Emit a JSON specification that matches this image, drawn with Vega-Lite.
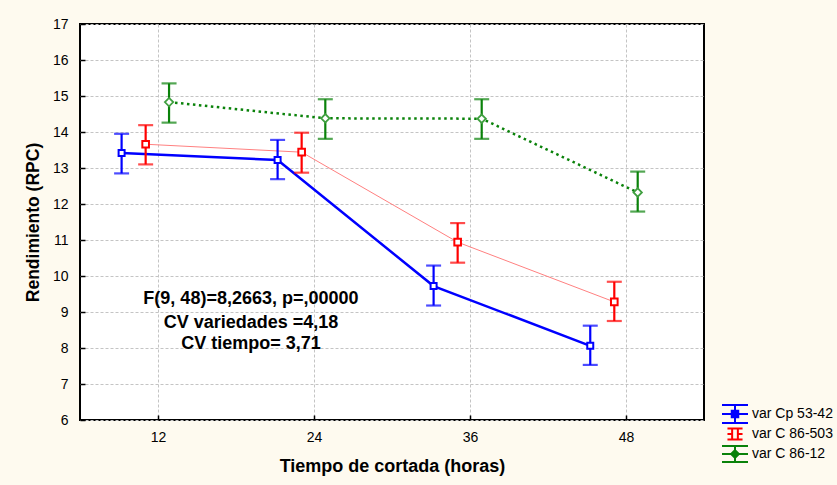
{
  "$schema": "https://vega.github.io/schema/vega-lite/v6.json",
  "width": 624,
  "height": 396,
  "autosize": {"type": "none"},
  "padding": {"left": 80, "top": 24, "right": 133, "bottom": 65},
  "background": "#fefaef",
  "config": {
    "view": {"stroke": "#000000", "strokeWidth": 2, "fill": "#ffffff"},
    "font": "Liberation Sans",
    "axis": {
      "domain": false,
      "grid": true,
      "gridColor": "#c4c4c4",
      "gridDash": [3, 2],
      "gridWidth": 1,
      "ticks": true,
      "tickSize": -5,
      "tickColor": "#000000",
      "tickWidth": 1.5,
      "labelFont": "Liberation Sans",
      "labelFontSize": 14,
      "labelColor": "#000000",
      "titleFont": "Liberation Sans",
      "titleFontWeight": "bold",
      "titleColor": "#000000"
    },
    "legend": {
      "orient": "none",
      "legendX": 641,
      "legendY": 380,
      "padding": 0,
      "clipHeight": 20,
      "rowPadding": 0,
      "symbolSize": 676,
      "symbolStrokeWidth": 2,
      "symbolType": "M-1,-0.69H1M-1,0.69H1M0,-0.69V-0.25M0,0.25V0.69M-1,0H-0.25M0.25,0H1M-0.25,-0.25H0.25V0.25H-0.25Z",
      "labelFont": "Liberation Sans",
      "labelFontSize": 14,
      "labelColor": "#000000",
      "labelOffset": 3,
      "labelLimit": 300
    }
  },
  "data": {
    "values": [
      {"serie": "var Cp 53-42", "t": 12, "x": 9.2, "y": 13.42, "lo": 12.85, "hi": 13.95},
      {"serie": "var Cp 53-42", "t": 24, "x": 21.2, "y": 13.22, "lo": 12.69, "hi": 13.78},
      {"serie": "var Cp 53-42", "t": 36, "x": 33.2, "y": 9.72, "lo": 9.18, "hi": 10.29},
      {"serie": "var Cp 53-42", "t": 48, "x": 45.25, "y": 8.06, "lo": 7.53, "hi": 8.62},
      {"serie": "var C 86-503", "t": 12, "x": 11.05, "y": 13.66, "lo": 13.1, "hi": 14.19},
      {"serie": "var C 86-503", "t": 24, "x": 23.05, "y": 13.44, "lo": 12.87, "hi": 13.98},
      {"serie": "var C 86-503", "t": 36, "x": 35.05, "y": 10.94, "lo": 10.37, "hi": 11.47},
      {"serie": "var C 86-503", "t": 48, "x": 47.1, "y": 9.28, "lo": 8.75, "hi": 9.84},
      {"serie": "var C 86-12", "t": 12, "x": 12.85, "y": 14.83, "lo": 14.26, "hi": 15.35},
      {"serie": "var C 86-12", "t": 24, "x": 24.87, "y": 14.38, "lo": 13.81, "hi": 14.91},
      {"serie": "var C 86-12", "t": 36, "x": 36.9, "y": 14.37, "lo": 13.81, "hi": 14.91},
      {"serie": "var C 86-12", "t": 48, "x": 48.9, "y": 12.32, "lo": 11.79, "hi": 12.9}
    ]
  },
  "encoding": {
    "x": {
      "field": "x",
      "type": "quantitative",
      "scale": {"domain": [6, 54], "nice": false, "zero": false},
      "axis": {
        "values": [12, 24, 36, 48],
        "title": "Tiempo de cortada (horas)",
        "titleFontSize": 18,
        "labelPadding": 15,
        "titlePadding": 13
      }
    },
    "y": {
      "field": "y",
      "type": "quantitative",
      "scale": {"domain": [6, 17], "nice": false, "zero": false},
      "axis": {
        "values": [6, 7, 8, 9, 10, 11, 12, 13, 14, 15, 16, 17],
        "title": "Rendimiento (RPC)",
        "titleFontSize": 17.5,
        "labelPadding": 17,
        "titlePadding": 10
      }
    }
  },
  "layer": [
    {
      "transform": [{"filter": "datum.serie === 'var Cp 53-42'"}],
      "mark": {"type": "line", "strokeWidth": 2.5, "color": "#0000ff"},
      "encoding": {"order": {"field": "x", "type": "quantitative"}}
    },
    {
      "transform": [{"filter": "datum.serie === 'var C 86-503'"}],
      "mark": {"type": "line", "strokeWidth": 1, "color": "#ff8080"},
      "encoding": {"order": {"field": "x", "type": "quantitative"}}
    },
    {
      "transform": [{"filter": "datum.serie === 'var C 86-12'"}],
      "mark": {"type": "line", "strokeWidth": 2.5, "strokeDash": [2.5, 3.5], "color": "#0a820a"},
      "encoding": {"order": {"field": "x", "type": "quantitative"}}
    },
    {
      "mark": {"type": "rule", "strokeWidth": 2.2},
      "encoding": {
        "y": {"field": "lo", "type": "quantitative"},
        "y2": {"field": "hi"},
        "color": {
          "field": "serie",
          "type": "nominal",
          "scale": {
            "domain": ["var Cp 53-42", "var C 86-503", "var C 86-12"],
            "range": ["#0000ff", "#ff0000", "#0a820a"]
          },
          "legend": {
            "title": null,
            "encode": {
              "symbols": {
                "update": {
                  "shape": {"signal": "datum.value === 'var Cp 53-42' ? 'M-1,-0.69H1M-1,0.69H1M0,-0.69V-0.25M0,0.25V0.69M-1,0H-0.25M0.25,0H1M-0.25,-0.25H0.25V0.25H-0.25Z' : datum.value === 'var C 86-503' ? 'M-0.58,-0.42H0.58M-0.58,0.42H0.58M-0.22,-0.42V0.42M0.22,-0.42V0.42M-0.58,0H-0.22M0.22,0H0.58' : 'M-1,-0.62H1M-1,0.62H1M0,-0.62V-0.3M0,0.3V0.62M-1,0H-0.3M0.3,0H1M0,-0.3L0.3,0L0,0.3L-0.3,0Z'"},
                  "fill": {"value": "#ffffff"},
                  "strokeWidth": {"value": 2}
                }
              }
            }
          }
        }
      }
    },
    {
      "mark": {"type": "tick", "orient": "horizontal", "size": 15, "thickness": 2.2},
      "encoding": {
        "y": {"field": "lo", "type": "quantitative"},
        "color": {"field": "serie", "type": "nominal", "legend": null}
      }
    },
    {
      "mark": {"type": "tick", "orient": "horizontal", "size": 15, "thickness": 2.2},
      "encoding": {
        "y": {"field": "hi", "type": "quantitative"},
        "color": {"field": "serie", "type": "nominal", "legend": null}
      }
    },
    {
      "transform": [{"filter": "datum.serie === 'var Cp 53-42'"}],
      "mark": {"type": "point", "shape": "square", "size": 36, "filled": false, "fill": "#ffffff", "fillOpacity": 1, "stroke": "#0000ff", "strokeWidth": 2, "opacity": 1}
    },
    {
      "transform": [{"filter": "datum.serie === 'var C 86-503'"}],
      "mark": {"type": "point", "shape": "square", "size": 44, "filled": false, "fill": "#ffffff", "fillOpacity": 1, "stroke": "#ff0000", "strokeWidth": 2, "opacity": 1}
    },
    {
      "transform": [{"filter": "datum.serie === 'var C 86-12'"}],
      "mark": {"type": "point", "shape": "diamond", "size": 70, "filled": false, "fill": "#ffffff", "fillOpacity": 1, "stroke": "#3f9f3f", "strokeWidth": 1.8, "opacity": 1}
    },
    {
      "data": {
        "values": [
          {"tx": 19.15, "ty": 9.353, "label": "F(9, 48)=8,2663, p=,00000"},
          {"tx": 19.15, "ty": 8.703, "label": "CV variedades =4,18"},
          {"tx": 19.15, "ty": 8.103, "label": "CV tiempo= 3,71"}
        ]
      },
      "mark": {"type": "text", "font": "Liberation Sans", "fontWeight": "bold", "fontSize": 18, "align": "center", "baseline": "middle", "color": "#000000"},
      "encoding": {
        "x": {"field": "tx", "type": "quantitative"},
        "y": {"field": "ty", "type": "quantitative"},
        "text": {"field": "label", "type": "nominal"}
      }
    }
  ]
}
